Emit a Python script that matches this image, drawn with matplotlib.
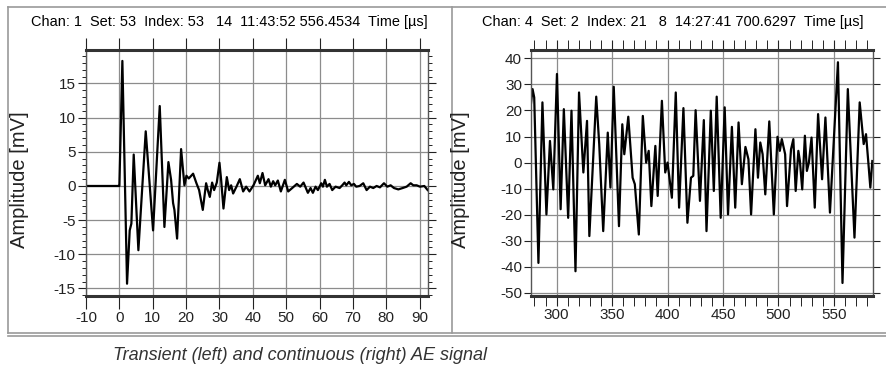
import matplotlib
matplotlib.use("Agg")
import matplotlib.pyplot as plt
from matplotlib import font_manager
from matplotlib.lines import Line2D
from matplotlib.ticker import MultipleLocator

# transient AE signal (left): time [us], amplitude [mV]
left_t = [-10, -0.2, 0.0, 0.9, 2.3, 3.1, 3.6, 4.3, 5.7, 7.9, 10.1, 12.1, 13.5, 14.7,
          15.5, 16.1, 16.5, 17.3, 18.5, 19.5, 20.1, 20.8, 22.1, 23.1, 23.9, 25.0, 26.0,
          26.5, 27.1, 27.8, 28.4, 29.2, 30.0, 30.5, 31.2, 32.2, 32.9, 33.5, 34.1, 35.1,
          36.1, 37.1, 38.0, 39.0, 40.2, 41.5, 42.1, 42.9, 43.7, 44.7, 45.4, 46.1, 46.7,
          47.5, 48.4, 49.6, 50.6, 51.8, 53.2, 54.2, 55.2, 56.5, 57.3, 58.0, 58.8, 59.5,
          60.5, 61.0, 61.6, 62.2, 63.0, 63.8, 64.8, 66.0, 66.8, 67.5, 68.0, 68.8, 69.5,
          70.3, 71.0, 72.0, 73.1, 74.1, 75.1, 76.1, 77.1, 78.1, 79.3, 80.3, 81.3, 82.3,
          83.6, 84.9, 86.1, 87.3, 88.1, 89.1, 90.1, 91.4, 92.4]
left_amp = [0.0, 0.0, 0.0, 18.3, -14.3, -6.5, -5.5, 4.6, -9.4, 8.0, -6.5, 11.7, -6.0, 3.5,
            0.9, -2.5, -3.5, -7.7, 5.4, 0.1, 1.5, 1.1, 1.8, 0.4, -0.6, -3.5, 0.4,
            -0.6, -1.6, 0.5, -0.6, 0.5, 3.4, 0.9, -3.3, 1.3, -0.6, 0.1, -1.1, -0.1,
            1.0, -0.8, -0.1, -0.8, 0.1, 1.5, 0.4, 1.9, 0.1, 1.0, -0.1, 0.7, 0.1,
            0.8, -0.8, 0.9, -0.8, -0.3, 0.3, -0.1, 0.5, -1.0, -0.3, -1.0, -0.1, -0.6,
            0.4, -0.1, 0.9, -0.1, 0.3, -0.6, -0.1, -0.3, 0.1, 0.5, 0.1, 0.6, 0.1,
            0.3, -0.1, 0.0, 0.4, -0.6, -0.1, -0.3, 0.0, -0.2, 0.4, -0.1, 0.1, -0.3,
            -0.5, -0.3, -0.1, 0.4, 0.1, 0.1, -0.1, 0.0, -0.6]

# continuous AE signal (right)
right_t = [276.2, 278.3, 279.8, 283.6, 287.2, 290.8, 294.0, 297.0, 300.3, 303.6, 306.5,
           310.4, 313.4, 317.0, 320.2, 324.1, 327.4, 329.5, 335.7, 338.4, 342.0, 346.1,
           348.5, 351.5, 356.2, 359.2, 361.0, 364.6, 368.5, 370.5, 374.1, 377.7, 380.7,
           383.0, 385.4, 389.0, 391.1, 394.9, 397.9, 400.0, 403.9, 407.4, 410.4, 414.3,
           417.9, 421.1, 423.2, 425.3, 429.2, 432.7, 435.1, 439.0, 441.7, 444.3, 447.9,
           451.5, 454.5, 458.0, 461.0, 464.0, 467.0, 470.2, 472.9, 475.3, 479.2, 481.5,
           483.6, 485.7, 488.1, 491.7, 495.8, 499.1, 501.2, 503.0, 506.0, 507.7, 511.3,
           513.4, 515.5, 517.9, 519.3, 521.4, 523.8, 525.6, 527.4, 529.8, 532.7, 535.7,
           539.3, 542.3, 546.4, 550.0, 553.6, 557.7, 562.5, 568.5, 573.2, 576.8, 578.9,
           581.0, 582.8, 584.6]
right_amp = [19.9, 28.2, 25.0, -38.5, 23.1, -19.9, 8.3, -10.3, 34.0, -17.9, 20.5,
             -21.2, 19.9, -41.7, 26.9, -3.8, 16.0, -28.2, 25.3, 7.1, -26.3, 11.5,
             -9.6, 29.1, -24.4, 14.7, 3.2, 17.6, -5.8, -8.3, -27.6, 17.9, 0.0,
             4.5, -16.7, 6.4, -12.8, 23.7, -3.8, 0.0, -13.5, 26.9, -17.3, 20.9,
             -23.1, -5.8, -5.1, 20.1, -14.7, 16.3, -26.3, 19.9, -10.9, 25.3, -21.2,
             21.2, -19.9, 13.7, -17.3, 15.4, -8.3, 6.0, 1.3, -19.9, 12.8, -5.8,
             7.7, 3.2, -12.2, 15.8, -19.9, 9.9, 4.5, 9.0, 3.2, -16.7, 5.1,
             9.0, -10.9, 4.5, 0.6, -10.3, 10.3, -3.2, 0.0, 9.6, -17.3, 18.6,
             -6.4, 17.3, -19.2, 9.6, 38.5, -46.2, 28.2, -28.8, 23.1, 7.1, 10.9,
             0.0, -9.6, 0.6]

left_title = "Chan: 1  Set: 53  Index: 53   14  11:43:52 556.4534  Time [\u00b5s]"
right_title = "Chan: 4  Set: 2  Index: 21   8  14:27:41 700.6297  Time [\u00b5s]"
caption = "Transient (left) and continuous (right) AE signal"

# use a narrow face if one is around, otherwise shrink the normal one
installed = {f.name for f in font_manager.fontManager.ttflist}
if "Liberation Sans Narrow" in installed:
    FAMILY, squeeze = "Liberation Sans Narrow", 1.0
else:
    FAMILY, squeeze = "Liberation Sans", 0.82
plt.rcParams["font.family"] = [FAMILY, "DejaVu Sans"]
plt.rcParams["axes.unicode_minus"] = False

W, H = 886, 372
fig = plt.figure(figsize=(W / 100, H / 100), dpi=100)


def px_axes(x0, y0, x1, y1):
    return fig.add_axes([x0 / W, 1 - y1 / H, (x1 - x0) / W, (y1 - y0) / H])


def style_axes(ax):
    ax.grid(True, which="major", color="#8c8c8c", lw=0.9)
    ax.set_axisbelow(True)
    for side in ("top", "bottom"):
        ax.spines[side].set_linewidth(2.2)
        ax.spines[side].set_color("#333333")
    for side in ("left", "right"):
        ax.spines[side].set_linewidth(1.0)
        ax.spines[side].set_color("#555555")
    ax.tick_params(labelsize=13.4 * squeeze, colors="#222222", pad=1.5)


# left panel
ax1 = px_axes(86, 50, 428, 296)
ax1.plot(left_t, left_amp, color="black", lw=1.6)
ax1.set_xlim(-10, 92.5)
ax1.set_ylim(-16.1, 19.9)
ax1.xaxis.set_major_locator(MultipleLocator(10))
ax1.yaxis.set_major_locator(MultipleLocator(5))
ax1.yaxis.set_minor_locator(MultipleLocator(1))
style_axes(ax1)
ax1.tick_params(axis="x", which="major", direction="out", length=9, top=True)
ax1.tick_params(axis="y", which="major", direction="out", length=6, right=True)
ax1.tick_params(axis="y", which="minor", direction="out", length=3, right=True)

# right panel
ax2 = px_axes(531, 50, 873, 296)
ax2.plot(right_t, right_amp, color="black", lw=1.6)
ax2.set_xlim(276.9, 585.2)
ax2.set_ylim(-51.2, 43.2)
ax2.xaxis.set_major_locator(MultipleLocator(50))
ax2.xaxis.set_minor_locator(MultipleLocator(10))
ax2.yaxis.set_major_locator(MultipleLocator(10))
style_axes(ax2)
ax2.tick_params(axis="x", which="both", direction="out", length=7, top=True)
ax2.tick_params(axis="y", which="major", direction="out", length=5, right=True)

# header lines and axis labels, placed in pixels like the screenshot
title_size = 12.7 * squeeze
fig.text(428 / W, 1 - 22 / H, left_title, fontsize=title_size, ha="right", va="center")
fig.text(863 / W, 1 - 22 / H, right_title, fontsize=title_size, ha="right", va="center")
for xpix in (20, 460):
    fig.text(xpix / W, 1 - 180 / H, "Amplitude [mV]", rotation=90, ha="center",
             va="center", fontsize=14.5, color="#222222",
             family=["Liberation Sans", "DejaVu Sans"])

# surrounding frame of the figure panel
frame_kw = dict(color="#9a9a9a", lw=1.2, transform=fig.transFigure)
fig.add_artist(Line2D([8 / W, 1], [1 - 7 / H, 1 - 7 / H], **frame_kw))
fig.add_artist(Line2D([8 / W, 8 / W], [1 - 7 / H, 1 - 333 / H], **frame_kw))
fig.add_artist(Line2D([452 / W, 452 / W], [1 - 7 / H, 1 - 333 / H], **frame_kw))
fig.add_artist(Line2D([8 / W, 1], [1 - 333 / H, 1 - 333 / H], **frame_kw))
fig.add_artist(Line2D([8 / W, 1], [1 - 336 / H, 1 - 336 / H], **frame_kw))

fig.text(113 / W, 1 - 356 / H, caption, fontsize=13 * (1.0 if squeeze == 1.0 else 1.0),
         style="italic", family=["Liberation Sans", "DejaVu Sans"],
         color="#333333", va="center", ha="left")

fig.savefig("out.png", dpi=100)
